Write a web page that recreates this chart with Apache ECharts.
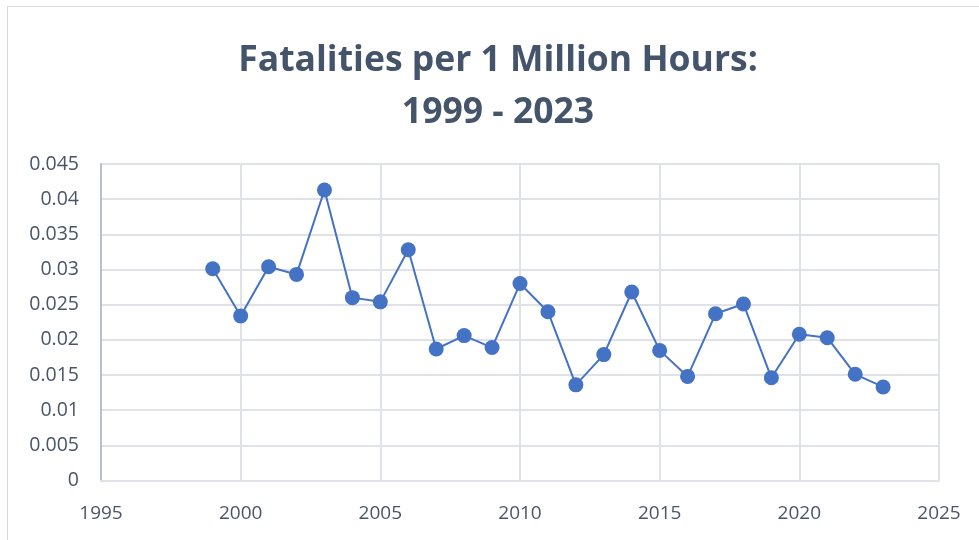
<!DOCTYPE html>
<html>
<head>
<meta charset="utf-8">
<script src="https://cdn.jsdelivr.net/npm/echarts@6/dist/echarts.min.js"></script>
<style>
  html, body { margin: 0; padding: 0; background: #fff; }
  #frame { position: absolute; left: 7px; top: 6px; width: 1000px; height: 560px; border: 1px solid #d9d9d9; }
  #chart { position: absolute; left: 0; top: 0; width: 979px; height: 540px; }
</style>
</head>
<body>
<div id="frame"></div>
<div id="chart"></div>
<script>
// years and fatality rate
const years = [1999, 2000, 2001, 2002, 2003, 2004, 2005, 2006, 2007, 2008, 2009, 2010, 2011,
  2012, 2013, 2014, 2015, 2016, 2017, 2018, 2019, 2020, 2021, 2022, 2023]
const rates = [0.0301, 0.0234, 0.0304, 0.0293, 0.0413, 0.0260, 0.0254, 0.0328, 0.0187, 0.0206,
  0.0189, 0.0280, 0.0240, 0.0136, 0.0179, 0.0268, 0.0185, 0.0148, 0.0237, 0.0251, 0.0146,
  0.0208, 0.0203, 0.0151, 0.0133]

const points = years.map((y, i) => [y, rates[i]])

const labelColor = '#4a5568'
const gridColor = '#dfe3e8'

const chart = echarts.init(document.getElementById('chart'))
chart.setOption({
  animation: false,
  title: {
    text: 'Fatalities per 1 Million Hours:\n1999 - 2023',
    left: 493,
    top: 30,
    textAlign: 'center',
    textStyle: {
      fontFamily: "'Open Sans', sans-serif",
      fontWeight: 'bold',
      fontSize: 35.5,
      lineHeight: 52,
      color: '#44546a'
    }
  },
  grid: { left: 101, right: 40, top: 164, bottom: 59.5 },
  xAxis: {
    type: 'value',
    min: 1995,
    max: 2025,
    interval: 5,
    axisLine: { show: true, lineStyle: { color: gridColor, width: 2 } },
    axisTick: { show: false },
    splitLine: { show: true, lineStyle: { color: gridColor, width: 2 } },
    axisLabel: {
      color: labelColor, fontSize: 19, margin: 24, fontFamily: "'Open Sans', sans-serif",
      formatter: v => String(v)
    }
  },
  yAxis: {
    type: 'value',
    min: 0,
    max: 0.045,
    interval: 0.005,
    axisLine: { show: true, lineStyle: { color: '#b8c0cc', width: 2 } },
    axisTick: { show: false },
    splitLine: { show: true, lineStyle: { color: gridColor, width: 2 } },
    axisLabel: { color: labelColor, fontSize: 19.5, margin: 22, fontFamily: "'Open Sans', sans-serif" }
  },
  series: [
    {
      type: 'line',
      data: points,
      symbol: 'circle',
      symbolSize: 15,
      lineStyle: { color: '#4472c4', width: 2 },
      itemStyle: { color: '#4472c4' }
    }
  ]
})
</script>
</body>
</html>
